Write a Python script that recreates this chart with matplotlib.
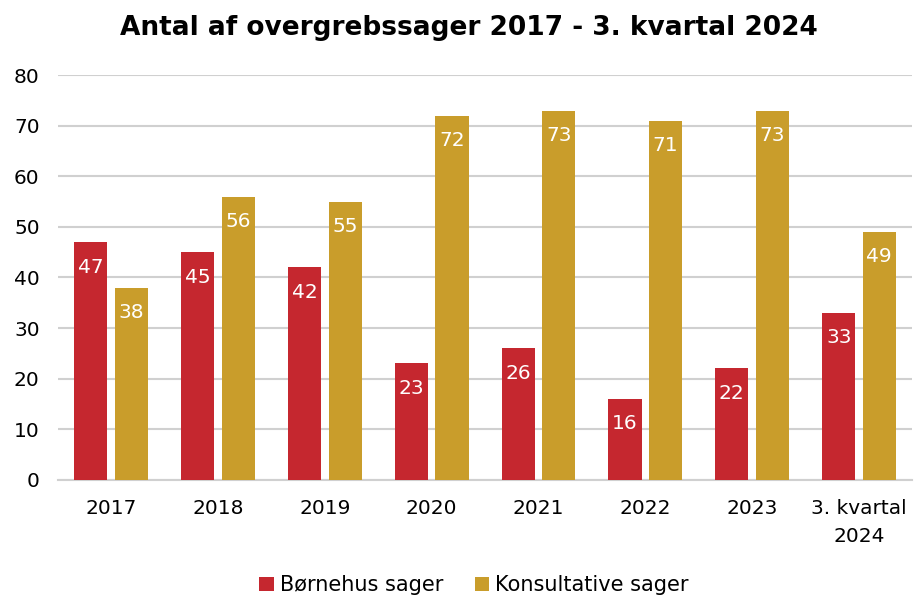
import matplotlib.pyplot as plt
import numpy as np

categories = ["2017", "2018", "2019", "2020", "2021", "2022", "2023", "3. kvartal\n2024"]
boernehus = [47, 45, 42, 23, 26, 16, 22, 33]
konsultative = [38, 56, 55, 72, 73, 71, 73, 49]

red = "#C5272F"
gold = "#C99D2B"

fig = plt.figure(figsize=(9.17, 5.96), dpi=100)
ax = fig.add_axes([0.063, 0.195, 0.932, 0.679])

x = np.arange(len(categories))
w = 0.31
off = 0.19
b1 = ax.bar(x - off, boernehus, w, color=red, label="Børnehus sager", zorder=3)
b2 = ax.bar(x + off, konsultative, w, color=gold, label="Konsultative sager", zorder=3)

for bars, vals in ((b1, boernehus), (b2, konsultative)):
    for r, v in zip(bars, vals):
        ax.annotate(str(v), (r.get_x() + r.get_width() / 2, v), xytext=(0, -25),
                    textcoords="offset pixels",
                    ha="center", va="center", color="white", fontsize=14.5, zorder=4)

ax.set_xlim(-0.5, len(categories) - 0.5)
ax.set_ylim(0, 80)
ax.set_yticks(range(0, 81, 10))
ax.set_xticks(x)
ax.set_xticklabels(categories, fontsize=14.5, linespacing=1.6)
ax.tick_params(axis="y", labelsize=14.5, length=0, pad=13)
ax.tick_params(axis="x", length=0, pad=14)
ax.grid(axis="y", color="#D0D0D0", linewidth=1.5, zorder=0)
for s in ("top", "right", "left"):
    ax.spines[s].set_visible(False)
ax.spines["bottom"].set_color("#D0D0D0")
ax.spines["bottom"].set_linewidth(1.5)

fig.suptitle("Antal af overgrebssager 2017 - 3. kvartal 2024", fontsize=19,
             fontweight="bold", x=0.511, y=0.975)
fig.legend(loc="lower center", bbox_to_anchor=(0.517, -0.03), ncol=2, frameon=False,
           fontsize=15, handlelength=0.7, handleheight=0.7, handletextpad=0.3,
           columnspacing=1.5)

fig.savefig("out.png", dpi=100)
